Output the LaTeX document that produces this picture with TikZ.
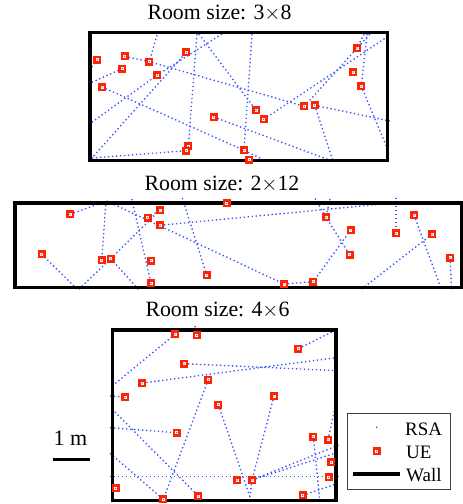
\documentclass[tikz,border=0pt]{standalone}
\usepackage{fontspec}
\setmainfont{Liberation Serif}
\pgfdeclarelayer{rays}
\pgfdeclarelayer{walls}
\pgfsetlayers{rays,walls,main}
\definecolor{uered}{RGB}{255,35,0}
\definecolor{rsablue}{RGB}{55,85,255}
\begin{document}
\begin{tikzpicture}[x=1pt,y=-1pt,
  ue/.style={rectangle, draw=uered, line width=2.4pt, fill=white,
    minimum size=5.4pt, inner sep=0pt,
    path picture={\fill[rsablue] (path picture bounding box.center) circle (0.7pt);}},
  rsa/.style={draw=rsablue, line width=1.35pt, dash pattern=on 1.35pt off 2.65pt},
  wall/.style={draw=black, line width=3.3pt},
  roomtitle/.style={anchor=base, inner sep=0pt, font=\fontsize{21.8}{26}\selectfont},
  legtext/.style={anchor=base west, inner sep=0pt, font=\fontsize{19}{23}\selectfont}]
\useasboundingbox (0,0) rectangle (463,504);

% ---------------- Room 1: 3 x 8 ----------------
\node[roomtitle] (t1) at (219.5,19.8) {Room size: 3$\times$8};
\begin{pgfonlayer}{walls}
\draw[wall] (90,32.8) rectangle (387.3,160.5);
\end{pgfonlayer}
\node[ue] (a1)  at (97.3,59.7) {};
\node[ue] (a2)  at (124.7,56.3) {};
\node[ue] (a3)  at (122.3,68.7) {};
\node[ue] (a4)  at (149.3,61.7) {};
\node[ue] (a5)  at (157.3,75) {};
\node[ue] (a6)  at (186.3,52.3) {};
\node[ue] (a7)  at (102,87) {};
\node[ue] (a8)  at (213.7,117) {};
\node[ue] (a9)  at (256,110.3) {};
\node[ue] (a10) at (263.7,119.3) {};
\node[ue] (a11) at (304.3,106.3) {};
\node[ue] (a12) at (314.7,105.3) {};
\node[ue] (a13) at (357,48) {};
\node[ue] (a14) at (353.3,72) {};
\node[ue] (a15) at (361.3,86.3) {};
\node[ue] (a16) at (188.3,146.3) {};
\node[ue] (a17) at (186.3,150.7) {};
\node[ue] (a18) at (244,150.3) {};
\node[ue] (a19) at (249.3,159.7) {};
\begin{pgfonlayer}{rays}
\draw[rsa] (157,35) -- (a4.center);
\draw[rsa] (197,34) -- (a16.center);
\draw[rsa] (199,34) -- (a9.center);
\draw[rsa] (91,159) -- (a6.center);
\draw[rsa] (222,34) -- (a5.center) -- (88,125);
\draw[rsa] (a3.center) -- (88,84);
\draw[rsa] (a1.center) -- (88,72);
\draw[rsa] (a2.center) -- (a4.center) -- (a11.center);
\draw[rsa] (a12.center) -- (390,121);
\draw[rsa] (a11.center) -- (370,34);
\draw[rsa] (a10.center) -- (390,35);
\draw[rsa] (367,34) -- (a15.center) -- (388,150);
\draw[rsa] (364,34) -- (a13.center);
\draw[rsa] (a8.center) -- (332,161);
\draw[rsa] (a7.center) -- (a18.center) -- (264,160);
\draw[rsa] (92,158) -- (a17.center);
\draw[rsa] (a12.center) -- (333,161);
\draw[rsa] (252,34) -- (a18.center);
\end{pgfonlayer}

% ---------------- Room 2: 2 x 12 ----------------
\node[roomtitle] (t2) at (222,190) {Room size: 2$\times$12};
\begin{pgfonlayer}{walls}
\draw[wall] (15,203) rectangle (461.5,287.3);
\end{pgfonlayer}
\node[ue] (b1)  at (70,214.3) {};
\node[ue] (b2)  at (160,210) {};
\node[ue] (b3)  at (147.7,217.7) {};
\node[ue] (b4)  at (160,225.3) {};
\node[ue] (b5)  at (226.7,203.3) {};
\node[ue] (b6)  at (41.7,254.3) {};
\node[ue] (b7)  at (101.7,260) {};
\node[ue] (b8)  at (110.7,258.7) {};
\node[ue] (b9)  at (151,260.7) {};
\node[ue] (b10) at (151,283.3) {};
\node[ue] (b11) at (206.7,275) {};
\node[ue] (b12) at (284,284) {};
\node[ue] (b13) at (313.3,281.7) {};
\node[ue] (b14) at (326,217.3) {};
\node[ue] (b15) at (350.7,230) {};
\node[ue] (b16) at (349.7,254.7) {};
\node[ue] (b17) at (396,233.3) {};
\node[ue] (b18) at (414,215) {};
\node[ue] (b19) at (432,234.3) {};
\node[ue] (b20) at (450,257.7) {};
\begin{pgfonlayer}{rays}
\draw[rsa] (b1.center) -- (106.7,201);
\draw[rsa] (106.7,201) -- (b12.center);
\draw[rsa] (106,201) -- (b7.center);
\draw[rsa] (131.7,199) -- (b10.center);
\draw[rsa] (b2.center) -- (b8.center) -- (78,290);
\draw[rsa] (b3.center) -- (b2.center);
\draw[rsa] (b4.center) -- (403,202);
\draw[rsa] (182.3,198) -- (b11.center);
\draw[rsa] (b6.center) -- (78,290);
\draw[rsa] (b8.center) -- (140,291);
\draw[rsa] (b12.center) -- (b13.center) -- (b15.center);
\draw[rsa] (315,198.5) -- (b14.center) -- (b16.center);
\draw[rsa] (330,199) -- (b14.center);
\draw[rsa] (396,198) -- (b17.center);
\draw[rsa] (b19.center) -- (361.7,289);
\draw[rsa] (b18.center) -- (441.7,290);
\draw[rsa] (b20.center) -- (451.7,290);
\end{pgfonlayer}

% ---------------- Room 3: 4 x 6 ----------------
\node[roomtitle] (t3) at (217.5,316.5) {Room size: 4$\times$6};
\begin{pgfonlayer}{walls}
\draw[wall] (112.7,330) rectangle (336,500.5);
\end{pgfonlayer}
\node[ue] (c1)  at (175,334.3) {};
\node[ue] (c2)  at (196.7,335.3) {};
\node[ue] (c3)  at (298.3,348.7) {};
\node[ue] (c4)  at (184,363.7) {};
\node[ue] (c5)  at (142.3,383) {};
\node[ue] (c6)  at (208.3,379.7) {};
\node[ue] (c7)  at (125,397.3) {};
\node[ue] (c8)  at (274,396) {};
\node[ue] (c9)  at (218.3,404.7) {};
\node[ue] (c10) at (176.7,432.7) {};
\node[ue] (c11) at (313.3,436.7) {};
\node[ue] (c12) at (328,439.7) {};
\node[ue] (c13) at (331.3,462.3) {};
\node[ue] (c14) at (328.7,477.3) {};
\node[ue] (c15) at (237.3,480) {};
\node[ue] (c16) at (252,480) {};
\node[ue] (c17) at (115.7,488.3) {};
\node[ue] (c18) at (198.3,496) {};
\node[ue] (c19) at (302.7,495.3) {};
\node[ue] (c20) at (163.3,499.3) {};
\begin{pgfonlayer}{rays}
\draw[rsa] (c1.center) -- (111,387);
\draw[rsa] (195,326) -- (c2.center);
\draw[rsa] (c3.center) -- (338,329);
\draw[rsa] (c4.center) -- (338,370.7);
\draw[rsa] (c5.center) -- (339,357.3);
\draw[rsa] (110,396) -- (c7.center);
\draw[rsa] (c6.center) -- (c20.center);
\draw[rsa] (c8.center) -- (c16.center);
\draw[rsa] (c9.center) -- (251.7,502);
\draw[rsa] (110,427.7) -- (c10.center);
\draw[rsa] (112,409) -- (c18.center);
\draw[rsa] (110,453.3) -- (c20.center);
\draw[rsa] (110,476.7) -- (339,476.7);
\draw[rsa] (c16.center) -- (339,445);
\draw[rsa] (c16.center) -- (339,452);
\draw[rsa] (c11.center) -- (320,502);
\draw[rsa] (c12.center) -- (337,399);
\draw[rsa] (c19.center) -- (339,483);
\draw[rsa] (c16.center) -- (249,503);
\end{pgfonlayer}

% ---------------- Scale bar ----------------
\node[anchor=base west, inner sep=0pt, font=\fontsize{22}{26}\selectfont] (sc) at (53.3,445) {1 m};
\draw[line width=2.5pt] (52.7,459.3) -- (90,459.3);

% ---------------- Legend ----------------
\draw[line width=0.8pt, draw=black!75] (347.3,413.3) rectangle (450,489.3);
\fill[rsablue] (376.7,427.3) circle (0.9pt);
\node[ue] (lg) at (376.7,451) {};
\draw[wall] (353.3,474) -- (400,474);
\node[legtext] (l1) at (405,435) {RSA};
\node[legtext] (l2) at (406,458) {UE};
\node[legtext] (l3) at (406,481.5) {Wall};
\end{tikzpicture}
\end{document}
